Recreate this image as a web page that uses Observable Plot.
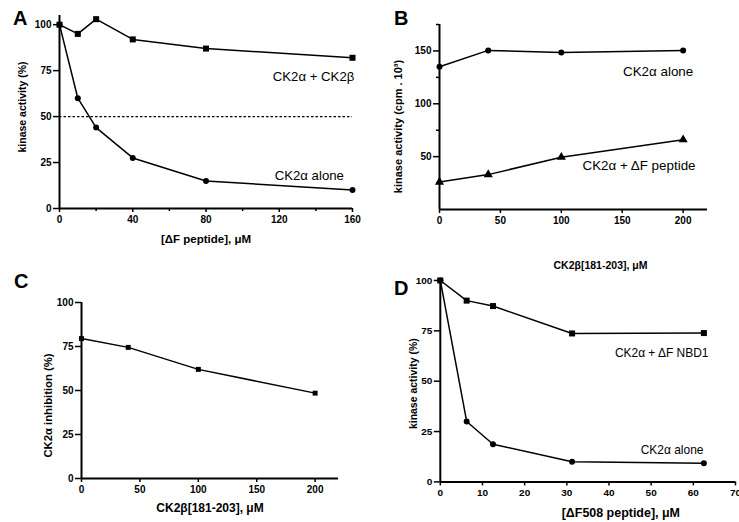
<!DOCTYPE html>
<html><head><meta charset="utf-8">
<script src="https://cdn.jsdelivr.net/npm/d3@7"></script>
<script src="https://cdn.jsdelivr.net/npm/@observablehq/plot@0.6"></script>
<style>
html,body{margin:0;padding:0;background:#fff;overflow:hidden;}
#fig{position:relative;width:739px;height:522px;overflow:hidden;background:#fff;font-family:"Liberation Sans",Arial,sans-serif;}
.panel{position:absolute;}
.letter{position:absolute;font-weight:bold;font-size:20px;line-height:20px;color:#000;}
</style></head><body><div id="fig"></div>
<script>
// ---- Panel A data ----
const aPeptide = [0, 10, 20, 40, 80, 160];
const aWithBeta = [100, 95, 103, 92, 87, 82];
const aAlone = [100, 60, 44, 27.5, 15, 10];
const aXTicks = [0, 40, 80, 120, 160];
const aXMinor = [20, 60, 100, 140];
const aYTicks = [0, 25, 50, 75, 100];
// ---- Panel B data ----
const bBeta = [0, 40, 100, 200];
const bAlone = [135, 150.5, 148.5, 150.5];
const bWithDF = [26, 33, 49.5, 66];
const bXTicks = [0, 50, 100, 150, 200];
const bYTicks = [50, 100, 150];
const bYMinor = [25, 75, 125, 175];
// ---- Panel C data ----
const cBeta = [0, 40, 100, 200];
const cInhibition = [79.5, 74.5, 62, 48.5];
const cXTicks = [0, 50, 100, 150, 200];
const cYTicks = [0, 25, 50, 75, 100];
// ---- Panel D data ----
const dPeptide = [0, 6.25, 12.5, 31.25, 62.5];
const dAlone = [100, 30, 18.7, 10, 9.3];
const dWithNBD1 = [100, 90, 87.3, 73.7, 73.9];
const dXTicks = [0, 10, 20, 30, 40, 50, 60, 70];
const dYTicks = [0, 25, 50, 75, 100];

const rows = (xs, ys) => xs.map((x, i) => ({x, y: ys[i]}));
const FONT = "'Liberation Sans', Arial, sans-serif";

function panel(o) {
  const marks = [
    Plot.ruleX([o.xDom[0]], {strokeWidth: 2}),
    Plot.ruleY([o.yDom[0]], {strokeWidth: 2}),
    Plot.axisX(o.xTicks, {tickSize: 4, tickPadding: 3, fontWeight: "bold", fontSize: 10, strokeWidth: 1.5, label: null}),
    Plot.axisY(o.yTicks, {tickSize: 6, tickPadding: 2, fontWeight: "bold", fontSize: 10, strokeWidth: 1.5, label: null}),
    Plot.text([o.xLabel], {frameAnchor: "bottom", textAnchor: "middle", lineAnchor: "middle", dx: o.xl[0], dy: o.xl[1], fontWeight: "bold", fontSize: o.xl[2]}),
    Plot.text([o.yLabel], {frameAnchor: "left", textAnchor: "middle", lineAnchor: "middle", rotate: -90, dx: o.yl[0], dy: o.yl[1], fontWeight: "bold", fontSize: o.yl[2]})
  ];
  if (o.xMinor) marks.push(Plot.axisX(o.xMinor, {tickSize: 3, strokeWidth: 1.5, tickFormat: () => "", label: null}));
  if (o.yMinor) marks.push(Plot.axisY(o.yMinor, {tickSize: 3, strokeWidth: 1.5, tickFormat: () => "", label: null}));
  const p = Plot.plot({
    width: o.w, height: o.h,
    marginLeft: o.mL, marginRight: o.mR, marginTop: o.mT, marginBottom: o.mB,
    style: {fontFamily: FONT, fontSize: "10px", color: "#000", background: "transparent", overflow: "visible"},
    x: {domain: o.xDom}, y: {domain: o.yDom},
    marks: [...marks, ...o.marks]
  });
  const div = document.createElement("div");
  div.className = "panel";
  div.style.left = o.left + "px";
  div.style.top = o.top + "px";
  div.appendChild(p);
  document.getElementById("fig").appendChild(div);
}

function series(data, symbol, r) {
  return [
    Plot.line(data, {x: "x", y: "y", stroke: "#000", strokeWidth: 1.5}),
    Plot.dot(data, {x: "x", y: "y", symbol, r, fill: "#000", stroke: "none"})
  ];
}
const label = (t, x, y, fs) => Plot.text([t], {x: () => x, y: () => y, textAnchor: "end", lineAnchor: "middle", fontSize: fs, fill: "#000"});

// Panel A
panel({
  left: 0, top: 0, w: 370, h: 270, mL: 59, mR: 18, mT: 15, mB: 62,
  xDom: [0, 160], yDom: [0, 105], xTicks: aXTicks, xMinor: aXMinor, yTicks: aYTicks,
  xLabel: "[ΔF peptide], μM", xl: [0, 31, 11.5],
  yLabel: "kinase activity (%)", yl: [-37, -5, 10.5],
  marks: [
    Plot.ruleY([50], {strokeDasharray: "2.5,2", strokeWidth: 1.2}),
    ...series(rows(aPeptide, aWithBeta), "square", 3.4),
    ...series(rows(aPeptide, aAlone), "circle", 3),
    label("CK2α + CK2β", 161, 71.8, 13.2),
    label("CK2α alone", 155.3, 17.6, 13.2)
  ]
});

// Panel B
panel({
  left: 370, top: 0, w: 369, h: 270, mL: 69, mR: 32, mT: 24, mB: 61,
  xDom: [0, 220], yDom: [0, 175], xTicks: bXTicks, yTicks: bYTicks, yMinor: bYMinor,
  xLabel: "CK2β[181-203], μM", xl: [27, 56, 10.5],
  yLabel: "kinase activity (cpm . 10³)", yl: [-41, 9.5, 11],
  marks: [
    ...series(rows(bBeta, bAlone), "circle", 3),
    ...series(rows(bBeta, bWithDF), "triangle", 3.4),
    label("CK2α alone", 208.3, 130.5, 13.4),
    label("CK2α + ΔF peptide", 210.2, 41.6, 13.4)
  ]
});

// Panel C
panel({
  left: 0, top: 270, w: 370, h: 252, mL: 81, mR: 32, mT: 32, mB: 44,
  xDom: [0, 220], yDom: [0, 100], xTicks: cXTicks, yTicks: cYTicks,
  xLabel: "CK2β[181-203], μM", xl: [0, 30, 12],
  yLabel: "CK2α inhibition (%)", yl: [-33, 15, 11.3],
  marks: [
    ...series(rows(cBeta, cInhibition), "square", 2.8)
  ]
});

// Panel D
panel({
  left: 370, top: 270, w: 370, h: 252, mL: 70, mR: 4, mT: 10, mB: 40,
  xDom: [0, 70], yDom: [0, 100], xTicks: dXTicks, yTicks: dYTicks,
  xLabel: "[ΔF508 peptide], μM", xl: [33, 31, 12.5],
  yLabel: "kinase activity (%)", yl: [-27, 2.5, 10.5],
  marks: [
    ...series(rows(dPeptide, dWithNBD1), "square", 3.4),
    ...series(rows(dPeptide, dAlone), "circle", 3),
    label("CK2α + ΔF NBD1", 63.6, 63.7, 12),
    label("CK2α alone", 62.4, 15.7, 12)
  ]
});

// Panel letters
const letters = [["A", 13, 8], ["B", 394, 8], ["C", 14, 271], ["D", 394, 278]];
for (const [t, l, tp] of letters) {
  const d = document.createElement("div");
  d.className = "letter";
  d.textContent = t;
  d.style.left = l + "px";
  d.style.top = tp + "px";
  document.getElementById("fig").appendChild(d);
}
</script></body></html>
